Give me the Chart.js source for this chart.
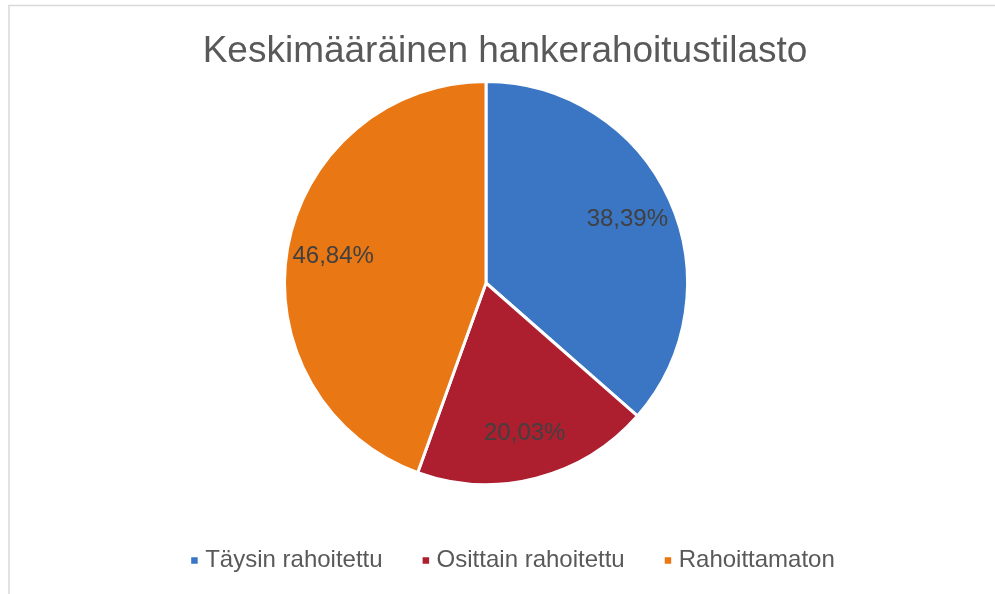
<!DOCTYPE html>
<html>
<head>
<meta charset="utf-8">
<script src="https://cdn.jsdelivr.net/npm/chart.js@4.4.0/dist/chart.umd.min.js"></script>
<style>
  html, body { margin: 0; padding: 0; background: #ffffff; }
  #wrap { position: relative; width: 995px; height: 594px; }
</style>
</head>
<body>
<div id="wrap"><canvas id="c" width="995" height="594"></canvas></div>
<script>
// ---- data ----
const chartTitle = 'Keskimääräinen hankerahoitustilasto';
const categories = ['Täysin rahoitettu', 'Osittain rahoitettu', 'Rahoittamaton'];
const values = [38.39, 20.03, 46.84];
const sliceColors = ['#3A76C4', '#AD1F2E', '#E87714'];

function fmtPct(v) {
  return v.toFixed(2).replace('.', ',') + '%';
}

const FONT = '"Liberation Sans", Arial, Helvetica, sans-serif';

const decorPlugin = {
  id: 'decor',
  beforeDraw(chart) {
    const ctx = chart.ctx;
    ctx.save();
    ctx.fillStyle = '#ffffff';
    ctx.fillRect(0, 0, chart.width, chart.height);
    // chart frame
    ctx.strokeStyle = '#d9d9d9';
    ctx.lineWidth = 1.5;
    ctx.strokeRect(9, 5.5, 2000, 2000);
    ctx.restore();
  },
  afterDraw(chart) {
    const ctx = chart.ctx;
    ctx.save();
    // title
    ctx.font = '37px ' + FONT;
    ctx.fillStyle = '#595959';
    ctx.textAlign = 'center';
    ctx.textBaseline = 'alphabetic';
    ctx.fillText(chartTitle, 505, 62);

    // data labels
    const meta = chart.getDatasetMeta(0);
    ctx.font = '24px ' + FONT;
    ctx.fillStyle = '#404040';
    ctx.textAlign = 'center';
    ctx.textBaseline = 'middle';
    meta.data.forEach((arc, i) => {
      const p = arc.getProps(['x', 'y', 'startAngle', 'endAngle', 'outerRadius'], true);
      const mid = (p.startAngle + p.endAngle) / 2;
      const r = p.outerRadius * 0.77;
      ctx.fillText(fmtPct(values[i]), p.x + Math.cos(mid) * r, p.y + Math.sin(mid) * r);
    });

    // legend
    ctx.font = '24px ' + FONT;
    const sq = 6.5, toText = 14, itemGap = 40;
    const widths = categories.map(c => ctx.measureText(c).width);
    let total = 0;
    widths.forEach((w, i) => { total += toText + w + (i < widths.length - 1 ? itemGap : 0); });
    let x = 513 - total / 2;
    const ly = 560.5;
    ctx.textAlign = 'left';
    ctx.textBaseline = 'middle';
    categories.forEach((c, i) => {
      ctx.fillStyle = sliceColors[i];
      ctx.fillRect(x, ly - sq / 2, sq, sq);
      ctx.fillStyle = '#595959';
      ctx.fillText(c, x + toText, ly);
      x += toText + widths[i] + itemGap;
    });
    ctx.restore();
  }
};

new Chart(document.getElementById('c'), {
  type: 'pie',
  data: {
    labels: categories,
    datasets: [{
      data: values,
      backgroundColor: sliceColors,
      borderColor: '#ffffff',
      borderWidth: 3
    }]
  },
  options: {
    responsive: false,
    animation: false,
    radius: 201.5,
    layout: { padding: { left: 86, right: 109, top: 0, bottom: 28 } },
    plugins: {
      legend: { display: false },
      title: { display: false },
      tooltip: { enabled: false }
    }
  },
  plugins: [decorPlugin]
});
</script>
</body>
</html>
